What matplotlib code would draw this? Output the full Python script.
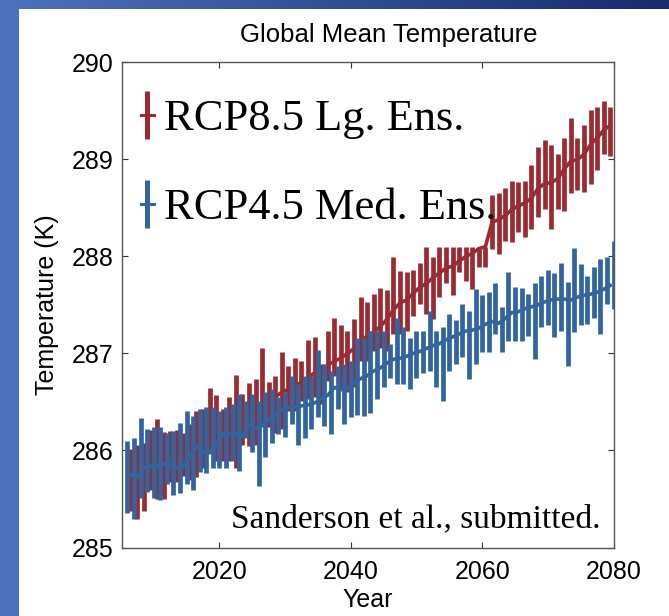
import numpy as np
import matplotlib
matplotlib.use("Agg")
import matplotlib.pyplot as plt
from matplotlib.lines import Line2D
from matplotlib.patches import Rectangle

# ---------------- data ----------------
years_med = list(range(2006, 2081))
med_high = [286.10, 286.13, 286.33, 286.22, 286.24, 286.24, 286.18, 286.20, 286.28, 286.41,
            286.36, 286.43, 286.45, 286.45, 286.41, 286.45, 286.48, 286.58, 286.51, 286.58,
            286.51, 286.60, 286.63, 286.55, 286.60, 286.77, 286.68, 286.77, 286.77, 287.04,
            286.89, 286.82, 286.87, 286.89, 286.92, 287.16, 287.16, 287.23, 287.23, 287.23,
            287.10, 287.36, 287.27, 287.16, 287.23, 287.23, 287.44, 287.23, 287.27, 287.41,
            287.34, 287.51, 287.44, 287.66, 287.60, 287.63, 287.73, 287.48, 287.84, 287.68,
            287.67, 287.61, 287.73, 287.80, 287.86, 287.83, 287.93, 287.74, 288.09, 287.92,
            287.80, 287.89, 287.97, 287.99, 288.16]
med_low = [285.36, 285.29, 285.51, 285.57, 285.51, 285.49, 285.65, 285.54, 285.56, 285.65,
           285.59, 285.78, 285.77, 285.82, 285.82, 285.82, 285.89, 285.79, 286.13, 285.98,
           285.63, 285.93, 286.08, 286.17, 286.14, 286.27, 286.06, 286.13, 286.22, 286.34,
           286.25, 286.17, 286.43, 286.27, 286.34, 286.37, 286.36, 286.39, 286.53, 286.65,
           286.75, 286.68, 286.68, 286.63, 286.75, 286.80, 286.82, 286.65, 286.51, 286.82,
           286.89, 286.96, 286.74, 286.89, 287.01, 287.01, 287.20, 287.01, 287.13, 287.13,
           287.13, 287.18, 286.94, 287.27, 287.29, 287.17, 287.23, 286.87, 287.22, 287.29,
           287.30, 287.37, 287.20, 287.51, 287.46]

years_lg = list(range(2006, 2080))
lg_high = [286.02, 286.06, 286.08, 286.21, 286.32, 286.19, 286.20, 286.21, 286.18, 286.27,
           286.41, 286.43, 286.64, 286.57, 286.43, 286.55, 286.78, 286.58, 286.70, 286.74,
           287.06, 286.71, 286.77, 287.01, 286.87, 286.95, 286.92, 287.14, 287.17, 286.89,
           287.23, 287.37, 287.29, 287.23, 287.35, 287.58, 287.53, 287.61, 287.67, 287.65,
           287.99, 287.85, 287.84, 287.86, 287.93, 288.10, 287.99, 288.10, 288.10, 288.10,
           288.10, 288.10, 288.10, 288.10, 288.10, 288.63, 288.65, 288.70, 288.78, 288.77,
           288.78, 288.94, 289.13, 289.20, 289.15, 289.06, 289.22, 289.43, 289.22, 289.35,
           289.51, 289.54, 289.60, 289.54]
lg_low = [285.38, 285.29, 285.38, 285.59, 285.50, 285.50, 285.68, 285.68, 285.74, 285.70,
          285.73, 285.82, 285.96, 285.89, 285.89, 285.89, 285.82, 286.06, 286.05, 286.06,
          286.24, 286.24, 286.18, 286.22, 286.41, 286.41, 286.51, 286.53, 286.55, 286.48,
          286.72, 286.77, 286.61, 286.60, 286.65, 286.92, 286.92, 287.03, 287.06, 287.03,
          287.20, 287.20, 287.23, 287.39, 287.51, 287.41, 287.35, 287.58, 287.73, 287.60,
          287.84, 287.75, 287.66, 287.89, 287.89, 288.08, 288.02, 288.16, 288.15, 288.25,
          288.20, 288.28, 288.41, 288.49, 288.28, 288.49, 288.47, 288.65, 288.68, 288.66,
          288.75, 288.89, 289.06, 289.03]

years_mean = list(range(2006, 2080))
med_mean = [285.75, 285.73, 285.82, 285.84, 285.85, 285.86, 285.86, 285.82, 285.84, 285.93,
            286.04, 285.99, 285.98, 286.06, 286.17, 286.17, 286.17, 286.15, 286.27, 286.23,
            286.26, 286.32, 286.36, 286.42, 286.44, 286.45, 286.46, 286.47, 286.49, 286.53,
            286.57, 286.65, 286.63, 286.64, 286.70, 286.74, 286.77, 286.82, 286.85, 286.90,
            286.94, 286.95, 286.97, 287.00, 287.02, 287.05, 287.08, 287.10, 287.14, 287.17,
            287.20, 287.23, 287.24, 287.26, 287.30, 287.33, 287.31, 287.36, 287.42, 287.43,
            287.46, 287.48, 287.50, 287.53, 287.55, 287.56, 287.56, 287.55, 287.58, 287.60,
            287.61, 287.63, 287.66, 287.70]
lg_mean = [285.70, 285.72, 285.78, 285.85, 285.90, 285.90, 285.93, 285.95, 285.98, 286.02,
           286.08, 286.12, 286.18, 286.22, 286.22, 286.25, 286.30, 286.32, 286.35, 286.42,
           286.48, 286.52, 286.55, 286.60, 286.63, 286.67, 286.70, 286.75, 286.80, 286.82,
           286.88, 286.92, 286.95, 287.00, 287.05, 287.12, 287.18, 287.22, 287.28, 287.35,
           287.45, 287.52, 287.55, 287.62, 287.68, 287.72, 287.78, 287.83, 287.88, 287.90,
           287.95, 288.00, 288.03, 288.08, 288.10, 288.35, 288.38, 288.42, 288.48, 288.52,
           288.55, 288.60, 288.70, 288.75, 288.76, 288.80, 288.90, 288.98, 289.00, 289.05,
           289.15, 289.22, 289.30, 289.35]

x_ticks = [2020, 2040, 2060, 2080]
y_ticks = [285, 286, 287, 288, 289, 290]
labels = ["RCP8.5 Lg. Ens.", "RCP4.5 Med. Ens."]

# ---------------- style ----------------
RED = "#9C2B31"
BLUE = "#30659F"
W, H = 669, 616
fig = plt.figure(figsize=(W / 100, H / 100), dpi=100)

# slide background: blue gradient frame with white panel
bg = fig.add_axes([0, 0, 1, 1], zorder=-10)
bg.axis("off")
c0 = np.array([78, 114, 190]) / 255.0
c1 = np.array([22, 44, 108]) / 255.0
t = np.linspace(0, 1, 256)[None, :, None]
grad = c0 + (c1 - c0) * t
bg.imshow(grad, extent=[0, 1, 0, 1], aspect="auto", transform=bg.transAxes)
bg.add_patch(Rectangle((19 / W, 0), 1 - 19 / W, 1 - 9 / H, transform=bg.transAxes,
                       facecolor="white", edgecolor="none"))
bg.set_xlim(0, 1)
bg.set_ylim(0, 1)

ax = fig.add_axes([121.7 / W, 1 - 547.5 / H, (613.5 - 121.7) / W, (547.5 - 62.3) / H])
ax.set_facecolor("none")

xb = np.array(years_med, dtype=float)
xr = np.array(years_lg, dtype=float) + 0.5
xm = np.array(years_mean, dtype=float) + 0.5

ax.vlines(xr, lg_low, lg_high, color=RED, lw=3.4, zorder=2)
ax.plot(xm, lg_mean, color=RED, lw=2.6, zorder=2.5)
ax.vlines(xb, med_low, med_high, color=BLUE, lw=3.4, zorder=3)
ax.plot(xm, med_mean, color=BLUE, lw=2.6, zorder=3.5)

ax.set_xlim(2005.13, 2080)
ax.set_ylim(285, 290)
ax.set_xticks(x_ticks)
ax.set_yticks(y_ticks)
ax.tick_params(direction="in", top=True, right=True, length=4, width=0.8,
               labelsize=18, colors="#333333", labelcolor="black")
ax.tick_params(axis="y", pad=6)
ax.tick_params(axis="x", pad=9)
for lab in ax.get_xticklabels() + ax.get_yticklabels():
    lab.set_family("Liberation Sans")
for s in ax.spines.values():
    s.set_color("#555555")
    s.set_linewidth(1.0)

ax.set_xlabel("Year", fontsize=18, family="Liberation Sans", labelpad=3)
ax.set_ylabel("Temperature (K)", fontsize=18, family="Liberation Sans", labelpad=9)
fig.text(389 / W, 1 - 35 / H, "Global Mean Temperature", ha="center", va="center",
         fontsize=18.5, family="Liberation Sans")

h_red = Line2D([], [], color=RED, lw=2.2, marker="|", markersize=35, mew=3.6)
h_blue = Line2D([], [], color=BLUE, lw=2.2, marker="|", markersize=35, mew=3.6)
leg = ax.legend([h_red, h_blue], labels, loc="upper left",
                bbox_to_anchor=((140.5 - 121.7) / 491.8, (547.5 - 99) / 485.2),
                borderaxespad=0, borderpad=0, handlelength=0.3, handletextpad=0.22,
                labelspacing=1.1, frameon=False,
                prop={"family": "Liberation Serif", "size": 32})
leg.set_zorder(5)

ax.text(600.7 / W, 1 - 527 / H, "Sanderson et al., submitted.", transform=fig.transFigure,
        ha="right", va="baseline", fontsize=24, family="Liberation Serif", zorder=6)

fig.savefig("out.png", dpi=100)
